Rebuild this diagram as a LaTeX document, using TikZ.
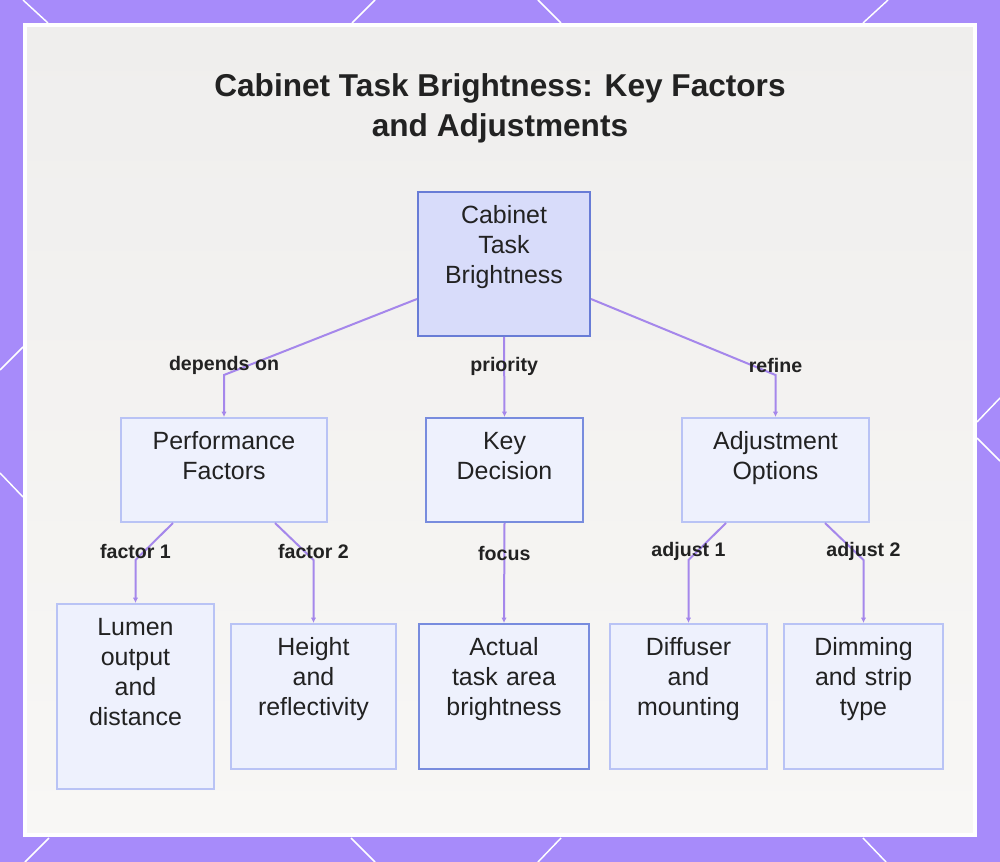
\documentclass[tikz,border=0pt]{standalone}
\usepackage{fontspec}
\setmainfont{Liberation Sans}
\usetikzlibrary{arrows.meta,calc}

\definecolor{bgpurple}{RGB}{167,139,250}
\definecolor{paneltop}{RGB}{239,238,237}
\definecolor{panelbottom}{RGB}{248,247,245}
\definecolor{linkpurple}{RGB}{165,135,235}
\definecolor{rootfill}{RGB}{216,220,250}
\definecolor{rootdraw}{RGB}{104,124,214}
\definecolor{boxfill}{RGB}{238,241,253}
\definecolor{boxdraw}{RGB}{185,195,245}
\definecolor{keydraw}{RGB}{120,140,222}
\definecolor{inkgray}{RGB}{34,34,34}

\begin{document}
\begin{tikzpicture}[
        x=0.75pt, y=-0.75pt,
        box/.style={rectangle, draw=boxdraw, line width=1.5pt, fill=boxfill, inner sep=0pt, align=center, text=inkgray, font=\fontsize{18.7}{22.5}\selectfont, text height=24pt, anchor=north},
        rootbox/.style={box, draw=rootdraw, fill=rootfill},
        keybox/.style={box, draw=keydraw},
        link/.style={-{Latex[length=4pt,width=4pt]}, line width=1.5pt, draw=linkpurple},
        lbl/.style={font=\bfseries\fontsize{14.7}{17}\selectfont, text=inkgray, inner sep=1pt},
        deco/.style={white, line width=1.1pt}
    ]
        % Frame
        \useasboundingbox (0,0) rectangle (1000,862);
        \fill[bgpurple] (0,0) rectangle (1000,862);
        \foreach \xa/\ya/\xb/\yb in {23/0/48/23, 375/0/352/23, 538/0/561/23, 888/0/863/23,
                49/838/25/862, 351/838/375/862, 561/838/538/862, 863/838/886/862,
                23/347/0/370, 0/473/23/497, 1000/398/977/422, 977/438/1000/461}
            \draw[deco] (\xa,\ya) -- (\xb,\yb);
        \shade[top color=paneltop, bottom color=panelbottom] (25,25) rectangle (975,835);
        \draw[white, line width=3pt] (25,25) rectangle (975,835);

        % Title
        \node[font=\bfseries\fontsize{23.7}{30}\selectfont, text=inkgray, align=center] (title) at (500,108) {Cabinet Task Brightness: Key Factors\\and Adjustments};

        % Nodes
        \node[rootbox, text width=129pt, text depth=84pt] (root) at (504,191) {Cabinet\\Task\\Brightness};
        \node[box, text width=154.5pt, text depth=54pt] (perf) at (224,417) {Performance\\Factors};
        \node[keybox, text width=117.75pt, text depth=54pt] (key) at (504.5,417) {Key\\Decision};
        \node[box, text width=140.25pt, text depth=54pt] (adj) at (775.5,417) {Adjustment\\Options};
        \node[box, text width=117.75pt, text depth=114.75pt] (lumen) at (135.5,603) {Lumen\\output\\and\\distance};
        \node[box, text width=123.75pt, text depth=84.75pt] (height) at (313.5,623) {Height\\and\\reflectivity};
        \node[keybox, text width=127.5pt, text depth=84.75pt] (actual) at (504,623) {Actual\\task area\\brightness};
        \node[box, text width=117.75pt, text depth=84.75pt] (diff) at (688.5,623) {Diffuser\\and\\mounting};
        \node[box, text width=119.25pt, text depth=84.75pt] (dimm) at (863.5,623) {Dimming\\and strip\\type};

        % Edges
        \draw[link] ($(root.west)+(0,35)$) -- ($(perf.north)+(0,-42)$) node[lbl, yshift=7.5pt] {depends on} -- (perf.north);
        \draw[link] (root.south) -- (key.north) node[lbl, pos=0.37] {priority};
        \draw[link] ($(root.east)+(0,35)$) -- ($(adj.north)+(0,-42)$) node[lbl, yshift=7.5pt] {refine} -- (adj.north);
        \draw[link] ($(perf.south)+(-51,0)$) -- ($(lumen.north)+(0,-43)$) node[lbl, yshift=6.75pt] {factor 1} -- (lumen.north);
        \draw[link] ($(perf.south)+(51,0)$) -- ($(height.north)+(0,-63)$) node[lbl, yshift=6.75pt] {factor 2} -- (height.north);
        \draw[link] (key.south) -- (actual.north) node[lbl, pos=0.3] {focus};
        \draw[link] ($(adj.south)+(-49.5,0)$) -- ($(diff.north)+(0,-63)$) node[lbl, yshift=6.75pt] {adjust 1} -- (diff.north);
        \draw[link] ($(adj.south)+(49.5,0)$) -- ($(dimm.north)+(0,-63)$) node[lbl, yshift=6.75pt] {adjust 2} -- (dimm.north);
\end{tikzpicture}
\end{document}
